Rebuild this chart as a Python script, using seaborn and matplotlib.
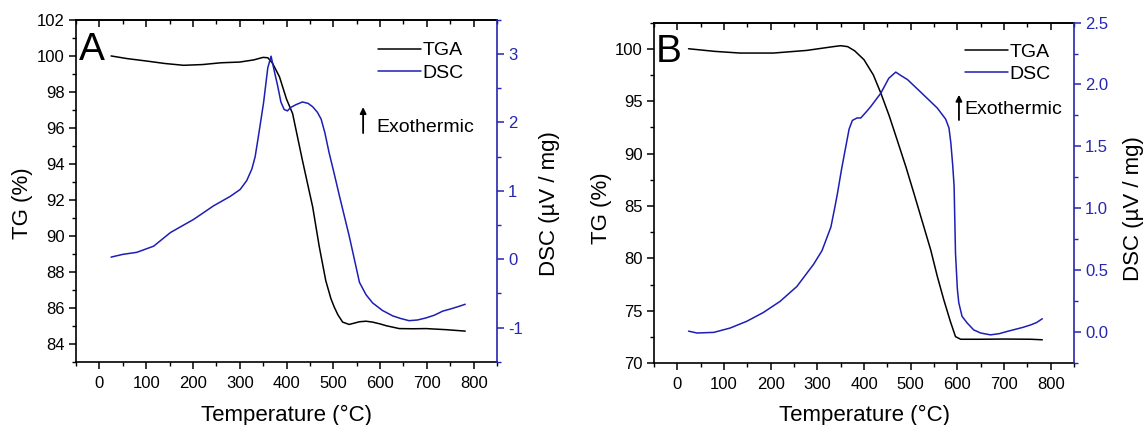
import matplotlib
matplotlib.use("Agg")
import matplotlib.pyplot as plt
from matplotlib.ticker import MultipleLocator, FormatStrFormatter
import seaborn as sns

# ---------------- data ----------------
# Panel A
temp_A_tga = [25, 60, 100, 140, 180, 220, 260, 300, 330, 350, 360, 370, 385, 400, 413, 434,
              456, 470, 484, 495, 502, 510, 520, 534, 556, 570, 584, 600, 613, 641, 670, 698, 741, 782]
tg_A = [100.0, 99.85, 99.72, 99.58, 99.48, 99.52, 99.62, 99.66, 99.78, 99.92, 99.9, 99.6, 98.84,
        97.6, 96.8, 94.2, 91.6, 89.4, 87.5, 86.5, 86.04, 85.6, 85.2, 85.07, 85.22, 85.25, 85.2,
        85.1, 85.0, 84.84, 84.83, 84.84, 84.78, 84.7]
temp_A_dsc = [25, 50, 80, 116, 152, 201, 244, 280, 301, 315, 326, 333, 340, 351, 360, 367, 374,
              381, 388, 395, 402, 409, 420, 434, 446, 456, 466, 474, 482, 491, 502, 513, 524, 534,
              545, 556, 570, 584, 605, 627, 645, 662, 680, 698, 716, 734, 750, 769, 782]
dsc_A = [0.03, 0.07, 0.10, 0.19, 0.39, 0.58, 0.78, 0.92, 1.02, 1.15, 1.32, 1.50, 1.80, 2.29, 2.80,
         2.97, 2.75, 2.54, 2.30, 2.19, 2.17, 2.22, 2.26, 2.30, 2.28, 2.23, 2.15, 2.05, 1.85, 1.56,
         1.25, 0.93, 0.62, 0.34, 0.0, -0.34, -0.52, -0.64, -0.75, -0.83, -0.87, -0.90, -0.89,
         -0.86, -0.82, -0.76, -0.73, -0.69, -0.66]

# Panel B
temp_B_tga = [24, 80, 134, 206, 277, 334, 350, 365, 380, 400, 420, 436, 454, 471, 490, 507, 525,
              543, 557, 571, 585, 596, 607, 650, 700, 757, 782]
tg_B = [100.0, 99.75, 99.59, 99.59, 99.84, 100.2, 100.29, 100.2, 99.8, 98.95, 97.5, 95.77, 93.6,
        91.3, 88.7, 86.2, 83.5, 80.8, 78.3, 76.05, 74.0, 72.55, 72.3, 72.3, 72.32, 72.3, 72.25]
temp_B_dsc = [24, 42, 78, 113, 149, 184, 220, 256, 292, 310, 320, 329, 338, 343, 352, 361, 368,
              375, 385, 393, 405, 414, 436, 453, 468, 480, 493, 521, 557, 575, 582, 586, 590, 593,
              596, 600, 603, 610, 621, 635, 650, 671, 690, 707, 740, 757, 770, 782]
dsc_B = [0.01, -0.005, 0.0, 0.035, 0.09, 0.16, 0.25, 0.37, 0.55, 0.66, 0.76, 0.85, 1.02, 1.12,
         1.32, 1.50, 1.64, 1.71, 1.73, 1.73, 1.78, 1.82, 1.93, 2.05, 2.10, 2.07, 2.04, 1.94, 1.81,
         1.72, 1.65, 1.53, 1.35, 1.18, 0.64, 0.35, 0.24, 0.13, 0.076, 0.02, -0.005, -0.02, -0.01,
         0.008, 0.04, 0.06, 0.08, 0.11]

panel_letters = ["A", "B"]
legend_labels = ["TGA", "DSC"]
x_label = "Temperature (°C)"
y_label_left = "TG (%)"
y_label_right = "DSC (µV / mg)"
note_text = "Exothermic"

# ---------------- style ----------------
sns.set_theme(style="ticks")
plt.rcParams['font.family'] = ['Liberation Sans', 'DejaVu Sans']
plt.rcParams['axes.unicode_minus'] = False
plt.rcParams['text.color'] = 'black'
plt.rcParams['axes.labelcolor'] = 'black'
plt.rcParams['xtick.color'] = 'black'
plt.rcParams['ytick.color'] = 'black'
plt.rcParams['xtick.labelcolor'] = 'black'
plt.rcParams['ytick.labelcolor'] = 'black'

BLUE = "#1e1eb4"
AXBLUE = "#2626b0"
TICK_FS = 12
LABEL_FS = 16

fig = plt.figure(figsize=(11.46, 4.25), dpi=100)


def make_panel(rect, letter, t_tg, tg, t_dsc, dsc, ylim_l, ymaj_l, ymin_l, ylim_r, ymaj_r,
               ymin_r, rfmt, cfg):
    ax = fig.add_axes(rect)
    ax2 = ax.twinx()
    sns.lineplot(x=t_tg, y=tg, ax=ax, color="black", linewidth=1.1, estimator=None, sort=False)
    sns.lineplot(x=t_dsc, y=dsc, ax=ax2, color=BLUE, linewidth=1.1, estimator=None, sort=False)

    ax.set_xlim(-50, 850)
    ax.set_ylim(*ylim_l)
    ax2.set_ylim(*ylim_r)

    ax.xaxis.set_major_locator(MultipleLocator(100))
    ax.xaxis.set_minor_locator(MultipleLocator(50))
    ax.yaxis.set_major_locator(MultipleLocator(ymaj_l))
    ax.yaxis.set_minor_locator(MultipleLocator(ymin_l))
    ax2.yaxis.set_major_locator(MultipleLocator(ymaj_r))
    ax2.yaxis.set_minor_locator(MultipleLocator(ymin_r))
    ax2.yaxis.set_major_formatter(FormatStrFormatter(rfmt))

    for s in ["left", "bottom", "top"]:
        ax.spines[s].set_color("black")
        ax.spines[s].set_linewidth(1.2)
        ax.spines[s].set_visible(True)
    ax.spines["right"].set_visible(False)
    for s in ["left", "bottom", "top"]:
        ax2.spines[s].set_visible(False)
    ax2.spines["right"].set_visible(True)
    ax2.spines["right"].set_color(AXBLUE)
    ax2.spines["right"].set_linewidth(1.2)

    ax.tick_params(axis="both", which="major", direction="out", length=5, width=1.1,
                   labelsize=TICK_FS, colors="black", pad=3, top=False, right=False)
    ax.tick_params(axis="both", which="minor", direction="out", length=3, width=1.0,
                   colors="black", top=False, right=False)
    ax.tick_params(axis="x", which="major", pad=5)
    ax2.tick_params(axis="y", which="major", direction="out", length=5, width=1.1,
                    labelsize=TICK_FS, colors=AXBLUE, pad=3)
    ax2.tick_params(axis="y", which="minor", direction="out", length=3, width=1.0,
                    colors=AXBLUE)

    sec = ax.secondary_xaxis("top")
    sec.xaxis.set_major_locator(MultipleLocator(100))
    sec.xaxis.set_minor_locator(MultipleLocator(50))
    sec.tick_params(axis="x", which="major", direction="in", length=5, width=1.1,
                    labeltop=False, colors="black")
    sec.tick_params(axis="x", which="minor", direction="in", length=3, width=1.0, colors="black")
    sec.spines["top"].set_linewidth(1.2)
    sec.spines["top"].set_color("black")

    ax.set_xlabel(x_label, fontsize=LABEL_FS, color="black")
    ax.xaxis.set_label_coords(0.5, cfg["xlab_y"])
    ax.xaxis.label.set_va("center")
    ax.set_ylabel(y_label_left, fontsize=LABEL_FS, color="black")
    ax.yaxis.set_label_coords(cfg["ylab_l"], cfg["ylab_y"])
    ax.yaxis.label.set_va("center")
    ax2.set_ylabel(y_label_right, fontsize=LABEL_FS, color="black", rotation=90)
    ax2.yaxis.set_label_coords(cfg["ylab_r"], cfg["ylab_y"])
    ax2.yaxis.label.set_va("center")

    ax.text(cfg["letter_x"], cfg["letter_y"], letter, transform=ax.transAxes, fontsize=28,
            ha="left", va="baseline", color="black")

    leg = ax2.legend(handles=[ax.lines[0], ax2.lines[0]], labels=legend_labels,
                     loc="upper left", bbox_to_anchor=cfg["leg"], frameon=False, fontsize=14,
                     handlelength=2.2, handletextpad=0.1, borderpad=0, borderaxespad=0,
                     labelspacing=0.25)
    for t in leg.get_texts():
        t.set_color("black")

    ax.annotate("", xy=(cfg["arr_x"], cfg["arr_top"]), xycoords="axes fraction",
                xytext=(cfg["arr_x"], cfg["arr_bot"]), textcoords="axes fraction",
                arrowprops=dict(arrowstyle="-|>", color="black", lw=1.3, mutation_scale=9,
                                shrinkA=0, shrinkB=0))
    ax.text(cfg["txt_x"], cfg["txt_y"], note_text, transform=ax.transAxes, fontsize=14,
            ha="left", va="center", color="black")
    return ax, ax2


cfgA = dict(xlab_y=-0.158, ylab_l=-0.128, ylab_r=1.125, ylab_y=0.464,
            letter_x=0.008, letter_y=0.883, leg=(0.717, 0.936),
            arr_x=0.682, arr_top=0.745, arr_bot=0.669, txt_x=0.714, txt_y=0.686)
cfgB = dict(xlab_y=-0.154, ylab_l=-0.126, ylab_r=1.142, ylab_y=0.455,
            letter_x=0.005, letter_y=0.885, leg=(0.740, 0.940),
            arr_x=0.726, arr_top=0.788, arr_bot=0.714, txt_x=0.740, txt_y=0.744)

make_panel([0.0663, 0.149, 0.3674, 0.804], panel_letters[0], temp_A_tga, tg_A, temp_A_dsc, dsc_A,
           (83, 102), 2, 1, (-1.5, 3.5), 1, 0.5, "%d", cfgA)
make_panel([0.5707, 0.145, 0.3665, 0.802], panel_letters[1], temp_B_tga, tg_B, temp_B_dsc, dsc_B,
           (70, 102.5), 5, 2.5, (-0.25, 2.5), 0.5, 0.25, "%.1f", cfgB)

fig.savefig("out.png", dpi=100)
